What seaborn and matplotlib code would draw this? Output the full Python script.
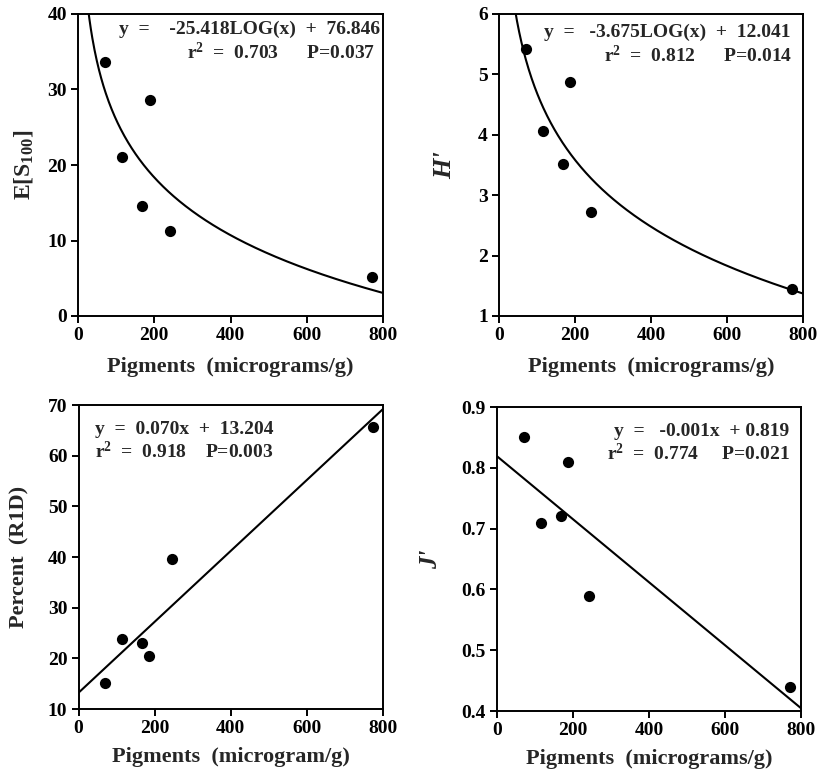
import numpy as np
import pandas as pd
import matplotlib
matplotlib.use("Agg")
import matplotlib.pyplot as plt
import seaborn as sns

# ---- data ----
pig_es = [72, 115, 168, 188, 242, 770]
es100 = [33.6, 21.0, 14.6, 28.6, 11.2, 5.1]

pig_h = [72, 115, 168, 188, 242, 770]
h_prime = [5.42, 4.06, 3.51, 4.87, 2.72, 1.44]

pig_r = [69, 113, 168, 186, 246, 774]
pct_r1d = [15.1, 23.9, 23.0, 20.5, 39.7, 65.7]

pig_j = [72, 115, 168, 188, 242, 770]
j_prime = [0.85, 0.71, 0.72, 0.81, 0.589, 0.439]

# fit coefficients
log_fit_es = (-25.418, 76.846)
log_fit_h = (-3.675, 12.041)
lin_fit_r = (0.070, 13.204)
lin_fit_j = (-0.000518, 0.819)

sns.set_style("ticks")
plt.rcParams['font.family'] = ['Liberation Serif', 'DejaVu Serif']
plt.rcParams['font.weight'] = 'bold'
plt.rcParams['mathtext.fontset'] = 'custom'
plt.rcParams['mathtext.rm'] = 'Liberation Serif:bold'
plt.rcParams['mathtext.it'] = 'Liberation Serif:bold:italic'
plt.rcParams['mathtext.bf'] = 'Liberation Serif:bold'

fig = plt.figure(figsize=(8.24, 7.71), dpi=100)
W, H = 824, 771

def mkax(l, r, t, b):
    return fig.add_axes([l / W, (H - b) / H, (r - l) / W, (b - t) / H])

ax1 = mkax(78, 383, 14, 316)
ax2 = mkax(499, 803, 14, 316)
ax3 = mkax(78.5, 383, 405, 709)
ax4 = mkax(497, 801, 407, 711)

TICK = 14
XL = 16
ANN = 14

def style(ax, ylim, yticks):
    ax.set_xlim(0, 800)
    ax.set_ylim(*ylim)
    ax.set_xticks([0, 200, 400, 600, 800])
    ax.set_yticks(yticks)
    for s in ax.spines.values():
        s.set_visible(True)
        s.set_linewidth(1.4)
        s.set_color('black')
    ax.tick_params(direction='out', length=5, width=1.4, labelsize=TICK, pad=3, colors='black')

def scatter(ax, x, y):
    df = pd.DataFrame({'x': x, 'y': y})
    sns.scatterplot(data=df, x='x', y='y', ax=ax, color='black', s=65,
                    edgecolor='black', linewidth=0, zorder=3)

def curve(ax, xs, ys):
    df = pd.DataFrame({'x': xs, 'y': ys})
    sns.lineplot(data=df, x='x', y='y', ax=ax, color='black', linewidth=1.5, zorder=2)

# Panel 1
xs = np.linspace(20, 800, 400)
curve(ax1, xs, log_fit_es[0] * np.log10(xs) + log_fit_es[1])
scatter(ax1, pig_es, es100)
style(ax1, (0, 40), [0, 10, 20, 30, 40])
ax1.set_xlabel('Pigments  (micrograms/g)', fontsize=XL, fontweight='bold', labelpad=9)
ax1.set_ylabel(r'E[S$_{100}$]', fontsize=17, fontweight='bold', labelpad=9)
ax1.text(0.99, 0.948, 'y  =    -25.418LOG(x)  +  76.846', transform=ax1.transAxes,
         ha='right', va='center', fontsize=ANN, fontweight='bold')
ax1.text(0.975, 0.873, r'r$^2$  =  0.703      P=0.037', transform=ax1.transAxes,
         ha='right', va='center', fontsize=ANN, fontweight='bold')

# Panel 2
xs = np.linspace(30, 800, 400)
curve(ax2, xs, log_fit_h[0] * np.log10(xs) + log_fit_h[1])
scatter(ax2, pig_h, h_prime)
style(ax2, (1, 6), [1, 2, 3, 4, 5, 6])
ax2.set_xlabel('Pigments  (micrograms/g)', fontsize=XL, fontweight='bold', labelpad=9)
ax2.set_ylabel("H'", fontsize=19, fontweight='bold', fontstyle='italic', labelpad=16)
ax2.text(0.96, 0.938, 'y  =   -3.675LOG(x)  +  12.041', transform=ax2.transAxes,
         ha='right', va='center', fontsize=ANN, fontweight='bold')
ax2.text(0.965, 0.862, r'r$^2$  =  0.812      P=0.014', transform=ax2.transAxes,
         ha='right', va='center', fontsize=ANN, fontweight='bold')

# Panel 3
xs = np.linspace(0, 800, 50)
curve(ax3, xs, lin_fit_r[0] * xs + lin_fit_r[1])
scatter(ax3, pig_r, pct_r1d)
style(ax3, (10, 70), [10, 20, 30, 40, 50, 60, 70])
ax3.set_xlabel('Pigments  (microgram/g)', fontsize=XL, fontweight='bold', labelpad=7)
ax3.set_ylabel('Percent  (R1D)', fontsize=16, fontweight='bold', labelpad=13)
ax3.text(0.055, 0.92, 'y  =  0.070x  +  13.204', transform=ax3.transAxes,
         ha='left', va='center', fontsize=ANN, fontweight='bold')
ax3.text(0.055, 0.848, r'r$^2$  =  0.918    P=0.003', transform=ax3.transAxes,
         ha='left', va='center', fontsize=ANN, fontweight='bold')

# Panel 4
curve(ax4, xs, lin_fit_j[0] * xs + lin_fit_j[1])
scatter(ax4, pig_j, j_prime)
style(ax4, (0.4, 0.9), [0.4, 0.5, 0.6, 0.7, 0.8, 0.9])
ax4.yaxis.set_major_formatter(matplotlib.ticker.FormatStrFormatter('%.1f'))
ax4.set_xlabel('Pigments  (micrograms/g)', fontsize=XL, fontweight='bold', labelpad=7)
ax4.set_ylabel("J'", fontsize=18, fontweight='bold', fontstyle='italic', labelpad=14)
ax4.text(0.962, 0.92, 'y  =   -0.001x  + 0.819', transform=ax4.transAxes,
         ha='right', va='center', fontsize=ANN, fontweight='bold')
ax4.text(0.962, 0.848, r'r$^2$  =  0.774     P=0.021', transform=ax4.transAxes,
         ha='right', va='center', fontsize=ANN, fontweight='bold')

for ax in (ax1, ax2, ax3, ax4):
    for lab in ax.get_xticklabels() + ax.get_yticklabels():
        lab.set_fontweight('bold')

fig.savefig('out.png', dpi=100)
